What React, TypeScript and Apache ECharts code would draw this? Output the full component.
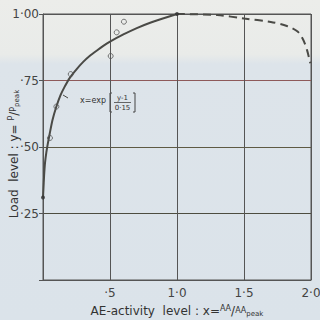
import React, { useEffect, useRef } from "react";
import * as echarts from "echarts";

const fitCurve: [number, number][] = [
  [0, 0.31], [0.003, 0.34], [0.008, 0.39], [0.015, 0.44], [0.025, 0.48], [0.035, 0.51],
  [0.05, 0.55], [0.07, 0.6], [0.1, 0.652], [0.13, 0.694], [0.16, 0.725], [0.2, 0.76],
  [0.25, 0.792], [0.3, 0.82], [0.35, 0.843], [0.4, 0.862], [0.45, 0.88], [0.5, 0.896],
  [0.6, 0.923], [0.7, 0.947], [0.8, 0.967], [0.9, 0.984], [1.0, 1.0],
];
const extrapolated: [number, number][] = [
  [1.0, 1.0], [1.3, 0.996], [1.5, 0.983], [1.7, 0.97], [1.82, 0.955],
  [1.9, 0.934], [1.94, 0.905], [1.97, 0.865], [1.995, 0.815],
];
const observed: [number, number][] = [
  [0.052, 0.534], [0.1, 0.652], [0.207, 0.774], [0.505, 0.842], [0.55, 0.931], [0.604, 0.971],
];
const anchors: [number, number][] = [[0, 0.31], [1.0, 1.0]];
const xTickLabels: Record<string, string> = { "0.5": "·5", "1": "1·0", "1.5": "1·5", "2": "2·0" };
const yTickLabels: Record<string, string> = { "0.25": "·25", "0.5": "·50", "0.75": "·75", "1": "1·00" };

const INK = "#4a4a46";
const FONT = "'DejaVu Sans', sans-serif";

export default function App() {
  const ref = useRef<HTMLDivElement>(null);
  useEffect(() => {
    if (!ref.current) return;
    const chart = echarts.init(ref.current, null, { renderer: "svg" });
    chart.setOption({
      animation: false,
      backgroundColor: {
        type: "linear", x: 0, y: 0, x2: 0, y2: 1,
        colorStops: [
          { offset: 0, color: "#ecedea" },
          { offset: 0.17, color: "#e9ebe9" },
          { offset: 0.2, color: "#dde4ea" },
          { offset: 1, color: "#dbe3ea" },
        ],
      },
      grid: {
        left: 43, right: 9, top: 14, bottom: 40, containLabel: false, outerBoundsMode: "none",
        show: true, borderColor: "#555", borderWidth: 1,
      },
      xAxis: {
        type: "value", min: 0, max: 2, interval: 0.5,
        axisLine: { show: true, lineStyle: { color: "#555" } },
        axisTick: { show: false },
        axisLabel: {
          color: "#444", fontFamily: FONT, fontSize: 12, margin: 7,
          formatter: (v: number) => xTickLabels[String(v)] ?? "",
        },
        splitLine: { show: true, lineStyle: { color: "#555", width: 1 } },
        name: "{m|AE-activity  level : x=}{s|AA}{m|/}{s2|AA}{b|peak}",
        nameLocation: "middle", nameGap: 24,
        nameTextStyle: {
          rich: {
            m: { fontFamily: FONT, fontSize: 12, color: "#333" },
            s: { fontFamily: FONT, fontSize: 8, color: "#333", padding: [0, 0, 4, 0] },
            s2: { fontFamily: FONT, fontSize: 8, color: "#333" },
            b: { fontFamily: FONT, fontSize: 7, color: "#333", padding: [6, 0, 0, 0] },
          },
        },
      },
      yAxis: {
        type: "value", min: 0, max: 1, interval: 0.25,
        axisLine: { show: true, lineStyle: { color: "#555" } },
        axisTick: { show: true, inside: false, length: 4, lineStyle: { color: "#555" } },
        axisLabel: {
          color: "#444", fontFamily: FONT, fontSize: 12, margin: 4,
          formatter: (v: number) => yTickLabels[String(v)] ?? "",
        },
        splitLine: { show: true, lineStyle: { color: ["#555", "#4d4d40", "#5e5a44", "#8e5a5a", "#555"], width: 1 } },
        name: "{m|Load  level : y= }{s|P}{m|/}{s2|P}{b|peak}",
        nameLocation: "middle", nameGap: 23, nameMoveOverlap: false,
        nameTextStyle: {
          padding: [0, 0, 0, -14],
          rich: {
            m: { fontFamily: FONT, fontSize: 12, color: "#333" },
            s: { fontFamily: FONT, fontSize: 8, color: "#333", padding: [0, 0, 4, 0] },
            s2: { fontFamily: FONT, fontSize: 8, color: "#333" },
            b: { fontFamily: FONT, fontSize: 7, color: "#333", padding: [6, 0, 0, 0] },
          },
        },
      },
      series: [
        {
          type: "line", data: fitCurve, smooth: 0.2, showSymbol: false,
          lineStyle: { color: INK, width: 2 }, z: 3,
        },
        {
          type: "line", data: extrapolated, smooth: 0.3, showSymbol: false,
          lineStyle: { color: INK, width: 2, type: [8, 5] }, z: 3,
        },
        {
          type: "scatter", data: observed, symbol: "circle", symbolSize: 5,
          itemStyle: { color: "transparent", borderColor: "#555", borderWidth: 1 }, z: 4,
        },
        {
          type: "scatter", data: anchors, symbol: "circle", symbolSize: 4, clip: false,
          itemStyle: { color: "#333" }, z: 4,
        },
      ],
      graphic: [
        { type: "line", shape: { x1: 63, y1: 95, x2: 68, y2: 98 }, style: { stroke: INK, lineWidth: 1 } },
        { type: "text", x: 80, y: 100, style: { text: "x=exp", font: `8px ${FONT}`, fill: "#333", textVerticalAlign: "middle" } },
        { type: "polyline", shape: { points: [[112, 93], [110, 93], [110, 112], [112, 112]] }, style: { stroke: "#444", lineWidth: 1, fill: "none" } },
        { type: "polyline", shape: { points: [[133, 93], [135, 93], [135, 112], [133, 112]] }, style: { stroke: "#444", lineWidth: 1, fill: "none" } },
        { type: "text", x: 122.5, y: 98, style: { text: "y-1", font: `7px ${FONT}`, fill: "#333", textAlign: "center", textVerticalAlign: "middle" } },
        { type: "line", shape: { x1: 114, y1: 102.5, x2: 131, y2: 102.5 }, style: { stroke: "#444", lineWidth: 0.8 } },
        { type: "text", x: 122.5, y: 107.5, style: { text: "0·15", font: `7px ${FONT}`, fill: "#333", textAlign: "center", textVerticalAlign: "middle" } },
      ],
    });
    return () => chart.dispose();
  }, []);
  return <div ref={ref} style={{ width: 320, height: 320, position: "absolute", left: 0, top: 0 }} />;
}
